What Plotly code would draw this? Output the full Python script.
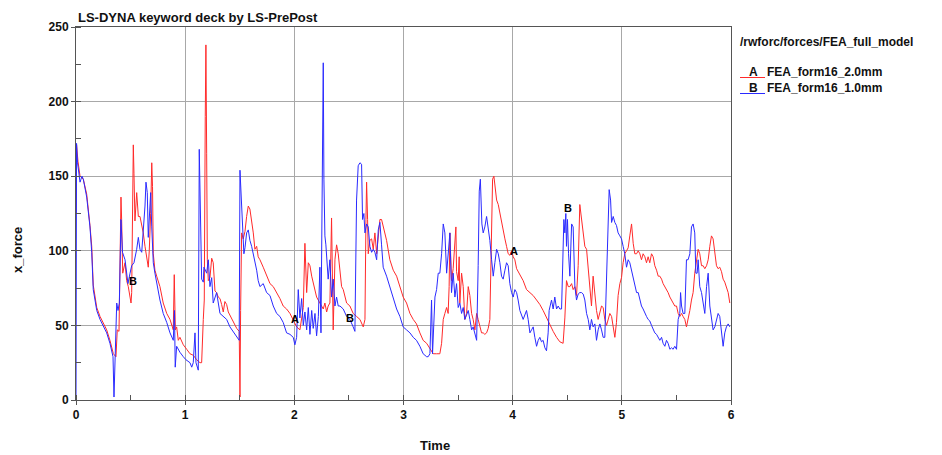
import plotly.graph_objects as go

# ---------------- data ----------------
time_A = [0.000,0.005,0.018,0.037,0.067,0.098,0.128,0.144,0.158,0.190,0.220,0.281,0.311,0.342,0.366,0.378,0.394,0.403,0.412,0.418,
          0.428,0.449,0.464,0.479,0.495,0.504,0.510,0.519,0.525,0.531,0.540,0.556,0.571,0.586,0.602,0.616,0.632,0.647,0.662,0.671,
          0.684,0.694,0.701,0.708,0.723,0.739,0.769,0.799,0.831,0.861,0.891,0.900,0.910,0.922,0.937,0.952,0.983,1.014,1.044,1.074,
          1.105,1.136,1.151,1.166,1.175,1.184,1.190,1.197,1.203,1.212,1.227,1.243,1.257,1.273,1.288,1.303,1.319,1.334,1.349,1.364,
          1.380,1.395,1.410,1.440,1.472,1.495,1.502,1.508,1.517,1.532,1.548,1.563,1.578,1.593,1.609,1.624,1.639,1.655,1.669,1.685,
          1.715,1.746,1.777,1.807,1.838,1.868,1.898,1.929,1.960,1.990,2.021,2.051,2.067,2.082,2.097,2.113,2.128,2.143,2.159,2.173,
          2.189,2.204,2.234,2.265,2.280,2.296,2.310,2.326,2.341,2.350,2.356,2.372,2.387,2.402,2.418,2.433,2.448,2.479,2.509,2.539,
          2.570,2.601,2.631,2.647,2.656,2.662,2.671,2.677,2.692,2.708,2.723,2.738,2.754,2.769,2.784,2.799,2.814,2.845,2.875,2.906,
          2.937,2.967,2.997,3.028,3.059,3.089,3.119,3.150,3.180,3.212,3.242,3.272,3.303,3.333,3.349,3.364,3.379,3.395,3.409,3.418,
          3.425,3.440,3.455,3.471,3.480,3.486,3.501,3.510,3.516,3.532,3.547,3.562,3.578,3.593,3.608,3.624,3.638,3.654,3.670,3.684,
          3.700,3.715,3.730,3.745,3.761,3.776,3.791,3.798,3.807,3.816,3.828,3.837,3.853,3.868,3.883,3.898,3.913,3.929,3.944,3.959,
          3.974,3.990,4.005,4.020,4.036,4.066,4.096,4.127,4.158,4.188,4.219,4.249,4.279,4.310,4.341,4.371,4.402,4.432,4.462,4.478,
          4.493,4.509,4.524,4.540,4.554,4.570,4.585,4.600,4.615,4.631,4.646,4.661,4.677,4.692,4.707,4.722,4.737,4.753,4.768,4.783,
          4.799,4.814,4.829,4.844,4.860,4.875,4.890,4.906,4.921,4.936,4.951,4.966,4.982,4.997,5.012,5.027,5.043,5.058,5.073,5.089,
          5.104,5.119,5.135,5.150,5.165,5.180,5.195,5.211,5.226,5.241,5.256,5.272,5.287,5.302,5.318,5.333,5.348,5.364,5.378,5.394,
          5.409,5.424,5.440,5.455,5.470,5.485,5.501,5.516,5.531,5.547,5.561,5.577,5.592,5.607,5.623,5.638,5.653,5.668,5.684,5.699,
          5.714,5.730,5.745,5.760,5.776,5.791,5.806,5.821,5.836,5.852,5.867,5.882,5.897,5.913,5.928,5.943,5.958,5.974,5.989]
force_A = [125,171,160,150,148,138,117,103,77,62,56,47,40,31,29,47,46,112,136,121,
           85,92,80,76,69,65,72,143,171,152,120,139,123,123,118,112,103,94,89,100,
           125,159,143,98,87,83,76,65,58,54,47,84,47,49,40,42,37,34,31,30,
           27,25,25,54,67,190,238,165,94,80,82,95,92,73,72,69,68,64,59,66,
           64,59,57,53,48,46,2,60,112,108,113,123,130,128,121,112,101,103,96,94,
           89,84,78,76,72,68,63,61,58,54,49,47,54,62,105,72,92,90,83,78,
           72,69,65,61,65,59,63,65,122,80,47,94,104,98,85,76,74,65,63,58,
           56,54,49,54,121,146,121,98,107,108,101,112,98,110,121,121,116,107,94,87,
           83,76,69,65,58,54,51,45,40,38,34,31,31,31,38,54,58,62,58,76,
           112,80,88,112,116,86,80,96,65,85,76,54,58,76,70,58,54,47,58,54,
           50,45,45,44,45,48,54,80,121,148,150,143,134,131,125,118,112,108,103,98,
           97,100,96,94,88,84,80,74,72,70,67,64,60,55,50,46,42,39,38,55,
           80,76,76,78,74,76,70,90,131,122,110,103,101,89,76,63,83,70,60,54,
           58,63,62,54,50,54,58,56,50,42,52,70,78,82,92,98,100,102,110,118,
           105,98,98,100,98,94,98,96,92,96,92,98,96,90,87,83,83,81,78,76,
           74,72,69,67,65,63,63,58,56,58,56,54,49,54,60,67,72,85,94,101,
           98,90,90,88,90,94,103,110,108,98,90,88,89,86,81,79,76,72,65]

time_B = [0.000,0.005,0.014,0.037,0.046,0.055,0.067,0.098,0.128,0.144,0.158,0.190,0.220,0.281,0.311,0.339,0.348,0.357,0.373,0.385,
          0.397,0.412,0.426,0.449,0.464,0.476,0.495,0.510,0.531,0.556,0.571,0.586,0.602,0.616,0.632,0.641,0.653,0.662,0.671,0.684,
          0.694,0.708,0.723,0.739,0.769,0.799,0.831,0.861,0.891,0.902,0.909,0.922,0.952,0.983,1.007,1.044,1.060,1.074,1.090,1.099,
          1.120,1.129,1.136,1.151,1.166,1.172,1.197,1.212,1.227,1.243,1.257,1.288,1.319,1.349,1.380,1.410,1.440,1.472,1.495,1.502,
          1.517,1.527,1.538,1.548,1.563,1.578,1.593,1.609,1.624,1.639,1.655,1.669,1.685,1.715,1.746,1.777,1.807,1.838,1.868,1.898,
          1.929,1.960,1.990,2.005,2.021,2.036,2.051,2.067,2.082,2.097,2.113,2.128,2.143,2.159,2.173,2.189,2.204,2.220,2.234,2.244,
          2.250,2.259,2.265,2.271,2.280,2.289,2.296,2.310,2.326,2.341,2.356,2.372,2.387,2.402,2.418,2.448,2.479,2.509,2.539,2.555,
          2.570,2.585,2.601,2.616,2.625,2.637,2.647,2.662,2.677,2.692,2.708,2.723,2.738,2.754,2.769,2.784,2.799,2.814,2.845,2.875,
          2.906,2.937,2.967,2.997,3.028,3.059,3.089,3.119,3.150,3.180,3.212,3.226,3.242,3.257,3.266,3.288,3.303,3.318,3.333,3.349,
          3.364,3.379,3.395,3.409,3.425,3.440,3.455,3.471,3.486,3.501,3.516,3.532,3.547,3.562,3.578,3.593,3.608,3.624,3.638,3.654,
          3.670,3.684,3.694,3.704,3.713,3.718,3.730,3.745,3.761,3.776,3.791,3.807,3.822,3.837,3.853,3.868,3.883,3.898,3.913,3.929,
          3.944,3.959,3.974,3.990,4.005,4.020,4.036,4.050,4.066,4.096,4.112,4.127,4.142,4.158,4.173,4.188,4.203,4.219,4.234,4.249,
          4.264,4.279,4.295,4.310,4.325,4.334,4.356,4.371,4.386,4.402,4.417,4.432,4.448,4.457,4.469,4.478,4.487,4.493,4.502,4.512,
          4.524,4.540,4.554,4.570,4.585,4.600,4.615,4.631,4.646,4.661,4.677,4.692,4.707,4.722,4.737,4.753,4.768,4.783,4.799,4.814,
          4.829,4.844,4.860,4.875,4.884,4.897,4.906,4.921,4.936,4.951,4.966,4.982,4.997,5.012,5.027,5.043,5.058,5.073,5.089,5.104,
          5.119,5.135,5.150,5.165,5.180,5.195,5.211,5.226,5.241,5.256,5.272,5.287,5.302,5.318,5.333,5.348,5.364,5.378,5.394,5.409,
          5.424,5.440,5.455,5.470,5.485,5.501,5.516,5.531,5.538,5.547,5.561,5.577,5.592,5.607,5.623,5.638,5.653,5.668,5.678,5.690,
          5.699,5.714,5.730,5.745,5.760,5.776,5.791,5.806,5.821,5.836,5.852,5.867,5.882,5.897,5.913,5.928,5.943,5.958,5.974,5.989]
force_B = [0,172,159,146,148,150,148,136,116,99,74,60,54,45,38,29,2,32,65,60,
           65,121,99,94,85,78,85,90,92,101,109,101,99,112,130,146,139,109,121,139,
           116,92,85,78,67,58,52,45,40,60,22,36,32,29,27,25,22,25,45,25,
           20,168,143,81,79,89,85,94,76,82,65,72,58,56,54,49,46,42,40,154,
           128,112,98,102,112,114,107,103,98,94,87,80,76,78,72,70,63,58,56,52,
           45,44,42,37,42,74,55,68,50,59,47,62,44,60,48,58,43,56,89,45,
           94,188,226,148,110,104,94,81,94,69,81,63,69,63,63,61,56,54,49,46,
           134,157,159,158,121,125,112,118,116,103,99,101,99,94,114,119,104,89,83,76,
           69,61,56,49,47,45,42,40,36,31,29,29,31,67,31,69,74,85,85,98,
           118,112,85,98,112,72,85,69,78,62,65,58,62,54,58,60,54,47,49,45,
           40,90,140,148,130,118,112,116,123,116,107,94,83,92,101,98,92,83,81,87,
           92,90,78,72,69,74,72,67,60,54,58,60,54,45,47,49,42,36,40,42,
           39,40,35,33,45,60,67,61,69,61,63,61,61,98,121,112,125,103,121,98,
           83,118,116,76,67,71,72,72,71,67,58,54,47,54,49,51,40,47,51,47,
           42,42,85,130,141,134,119,123,119,117,112,110,108,103,98,89,94,92,87,81,
           76,72,72,67,63,61,58,56,54,53,50,47,45,44,42,40,42,38,36,40,
           38,34,35,34,36,34,54,58,72,63,58,58,94,94,98,116,118,112,85,85,
           94,76,72,63,58,76,85,63,54,47,49,54,58,56,47,36,45,49,51,49]

# curve markers (label, time, force)
marker_labels = ["A", "A", "A", "B", "B", "B"]
marker_t = [2.01, 4.01, 6.03, 0.52, 2.51, 4.51]
marker_v = [54, 100, 71, 80, 55, 129]

x_ticks = [0, 1, 2, 3, 4, 5, 6]
y_ticks = [0, 50, 100, 150, 200, 250]

title_text = "LS-DYNA keyword deck by LS-PrePost"
legend_title = "/rwforc/forces/FEA_full_model"
series_names = ["FEA_form16_2.0mm", "FEA_form16_1.0mm"]
series_tags = ["A", "B"]
series_colors = ["#ff2a2a", "#2a2aff"]

# ---------------- figure ----------------
FONT = "Arial, Liberation Sans, sans-serif"
# the page body has an 8px margin, so the figure is drawn 8px in from the window corner
W, H = 934, 447
L, T = 68, 19
PW, PH = 655, 373
R, B = W - L - PW, H - T - PH
PAGE_LEFT, PAGE_BOTTOM = 76, 400   # plot-area edges in window pixels


def px_x(p):
    return (p - PAGE_LEFT) / PW


def px_y(p):
    return (PAGE_BOTTOM - p) / PH


fig = go.Figure()
fig.add_trace(go.Scatter(x=time_A, y=force_A, mode="lines",
                         line=dict(color=series_colors[0], width=1), name=series_names[0]))
fig.add_trace(go.Scatter(x=time_B, y=force_B, mode="lines",
                         line=dict(color=series_colors[1], width=1), name=series_names[1]))

annotations = []
for lab, t, v in zip(marker_labels, marker_t, marker_v):
    annotations.append(dict(x=t, y=v, xref="x", yref="y", text=lab, showarrow=False,
                            xanchor="center", yanchor="middle",
                            font=dict(family=FONT, size=11, color="black", weight="bold")))

annotations.append(dict(x=0, y=1, xref="paper", yref="paper", xanchor="left", yanchor="bottom",
                        yshift=0, text=title_text, showarrow=False,
                        font=dict(family=FONT, size=13, color="#111", weight="bold")))
annotations.append(dict(x=px_x(738), y=px_y(42), xref="paper", yref="paper", xanchor="left",
                        yanchor="middle", text=legend_title, showarrow=False,
                        font=dict(family=FONT, size=12, color="#111", weight="bold")))
shapes = []
for i, (tag, name, col) in enumerate(zip(series_tags, series_names, series_colors)):
    yc = 72 + 16 * i
    annotations.append(dict(x=px_x(747), y=px_y(yc), xref="paper", yref="paper", xanchor="left",
                            yanchor="middle", text=tag, showarrow=False,
                            font=dict(family=FONT, size=12, color="#111", weight="bold")))
    annotations.append(dict(x=px_x(765), y=px_y(yc), xref="paper", yref="paper", xanchor="left",
                            yanchor="middle", text=name, showarrow=False,
                            font=dict(family=FONT, size=12, color="#111", weight="bold")))
    shapes.append(dict(type="line", xref="paper", yref="paper", x0=px_x(740), x1=px_x(765),
                       y0=px_y(yc + 5.5), y1=px_y(yc + 5.5), line=dict(color=col, width=1)))

annotations.append(dict(x=px_x(18), y=px_y(250), xref="paper", yref="paper", text="x_force",
                        textangle=-90, showarrow=False, xanchor="center", yanchor="middle",
                        font=dict(family=FONT, size=13, color="#111", weight="bold")))
annotations.append(dict(x=px_x(435), y=px_y(445), xref="paper", yref="paper", text="Time",
                        showarrow=False, xanchor="center", yanchor="middle",
                        font=dict(family=FONT, size=13, color="#111", weight="bold")))

axis_common = dict(showgrid=True, gridcolor="#a8a8a8", gridwidth=1, zeroline=False,
                   showline=True, linecolor="#555", linewidth=1, mirror=True,
                   ticks="outside", ticklen=4, tickcolor="#555",
                   tickfont=dict(family=FONT, size=12, color="#111", weight="bold"))

fig.update_layout(
    width=W, height=H, margin=dict(l=L, r=R, t=T, b=B, autoexpand=False),
    paper_bgcolor="white", plot_bgcolor="white", showlegend=False,
    xaxis=dict(range=[0, 6], tickvals=x_ticks, ticktext=[str(v) for v in x_ticks],
               minor=dict(ticks="inside", dtick=0.5, tick0=0, ticklen=5, tickcolor="#555", showgrid=False),
               **axis_common),
    yaxis=dict(range=[0, 250], tickvals=y_ticks, ticktext=[str(v) for v in y_ticks],
               minor=dict(ticks="inside", dtick=25, tick0=0, ticklen=5, tickcolor="#555", showgrid=False),
               **axis_common),
    annotations=annotations, shapes=shapes,
)

fig.write_html("out.html")
